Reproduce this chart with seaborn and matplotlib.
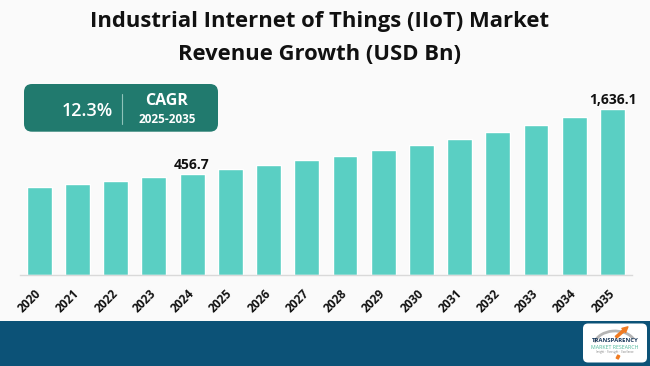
import numpy as np
import pandas as pd
import matplotlib
matplotlib.use("Agg")
import matplotlib.pyplot as plt
from matplotlib.patches import FancyBboxPatch, Rectangle, FancyArrowPatch, Arc
import seaborn as sns

# chart data (USD Bn)
years = ["2020", "2021", "2022", "2023", "2024", "2025", "2026", "2027",
         "2028", "2029", "2030", "2031", "2032", "2033", "2034", "2035"]
revenue = [315.5, 343.9, 380.0, 416.0, 456.7, 509.8, 561.0, 629.0,
           691.0, 780.0, 873.0, 981.0, 1110.0, 1261.0, 1427.0, 1636.1]
labelled_years = ["2024", "2035"]
cagr_value = "12.3%"
cagr_period = "2025-2035"
title = "Industrial Internet of Things (IIoT) Market\nRevenue Growth (USD Bn)"

BAR = "#5ACFC3"
BOX = "#217A6E"
BAND = "#0C5277"
BG = "#FAFAFA"

sns.set_theme(style="white")
plt.rcParams["font.family"] = ["Open Sans", "DejaVu Sans"]

df = pd.DataFrame({"year": years, "revenue": revenue})

fig = plt.figure(figsize=(6.5, 3.66), dpi=100, facecolor=BG)
ax = fig.add_axes([20.1 / 650, 1 - 275 / 366, 611.5 / 650, 175 / 366])
ax.set_facecolor(BG)

sns.barplot(data=df, x="year", y="revenue", color=BAR, width=0.65,
            saturation=1, ax=ax)

# compressed value axis, the way the original graphic is scaled
P = 0.3887
ax.set_yscale("function", functions=(lambda v: np.power(np.clip(v, 0, None), P),
                                     lambda h: np.power(np.clip(h, 0, None), 1 / P)))
ax.set_ylim(0, 1865)
ax.set_xlim(-0.5, len(years) - 0.5)

for i, (yr, val) in enumerate(zip(years, revenue)):
    if yr in labelled_years:
        ax.annotate(f"{val:,.1f}", (i, val), xytext=(0, 3.5), textcoords="offset points",
                    ha="center", va="baseline", fontsize=10, fontweight="bold",
                    color="#111111")

ax.set_xlabel("")
ax.set_ylabel("")
ax.set_yticks([])
ax.minorticks_off()
ax.yaxis.set_minor_locator(matplotlib.ticker.NullLocator())
for s in ["top", "right", "left"]:
    ax.spines[s].set_visible(False)
ax.spines["bottom"].set_color("#D9D9D9")
ax.spines["bottom"].set_linewidth(1)
ax.tick_params(axis="x", length=0, pad=12)
for lab in ax.get_xticklabels():
    lab.set_rotation(45)
    lab.set_ha("right")
    lab.set_va("center")
    lab.set_rotation_mode("anchor")
    lab.set_fontweight("bold")
    lab.set_fontsize(8.5)
    lab.set_color("#111111")

# title
fig.text(320 / 650, 1 - 37.5 / 366, title, ha="center", va="center", fontsize=15.8,
         fontweight="bold", color="#111111", linespacing=1.75)

# CAGR badge
tr = fig.dpi_scale_trans
fig.patches.append(FancyBboxPatch((0.24, 2.343), 1.94, 0.477,
                                  boxstyle="round,pad=0,rounding_size=0.08",
                                  transform=tr, facecolor=BOX, edgecolor="none"))
fig.lines.append(plt.Line2D([1.217, 1.217], [2.417, 2.72], transform=tr,
                            color="#8FC3BA", linewidth=0.8))
fig.text(0.875, 2.55, cagr_value, transform=tr, ha="center", va="center",
         fontsize=13, fontweight="semibold", color="white")
fig.text(1.67, 2.65, "CAGR", transform=tr, ha="center", va="center",
         fontsize=11.5, fontweight="bold", color="white")
fig.text(1.67, 2.467, cagr_period, transform=tr, ha="center", va="center",
         fontsize=8.5, fontweight="bold", color="white")

# bottom band with logo
fig.patches.append(Rectangle((0, 0), 6.5, 0.45, transform=tr, facecolor=BAND,
                             edgecolor="none"))
fig.patches.append(FancyBboxPatch((5.83, 0.035), 0.64, 0.39,
                                  boxstyle="round,pad=0,rounding_size=0.05",
                                  transform=tr, facecolor="white", edgecolor="none"))
fig.patches.append(Arc((6.15, 0.2), 0.42, 0.3, theta1=20, theta2=170, transform=tr,
                       color="#B5B5B5", linewidth=2))
fig.patches.append(FancyArrowPatch((6.14, 0.27), (6.3, 0.41), transform=tr,
                                   arrowstyle="simple,head_width=4,head_length=4,tail_width=1.6",
                                   color="#F07B22"))
fig.patches.append(FancyArrowPatch((6.16, 0.05), (6.2, 0.13), transform=tr,
                                   arrowstyle="simple,head_width=0.1,head_length=0.1,tail_width=1.6",
                                   color="#F07B22"))
fig.text(6.15, 0.26, "TRANSPARENCY", transform=tr, ha="center", va="center",
         fontsize=4.3, fontweight="bold", color="#1B3A5C")
fig.text(6.15, 0.185, "MARKET RESEARCH", transform=tr, ha="center", va="center",
         fontsize=3.8, color="#4DB89A")
fig.text(6.15, 0.145, "Insight  ·  Foresight  ·  Excellence", transform=tr,
         ha="center", va="center", fontsize=1.8, color="#777777")

fig.savefig("out.png", dpi=100, facecolor=BG)
